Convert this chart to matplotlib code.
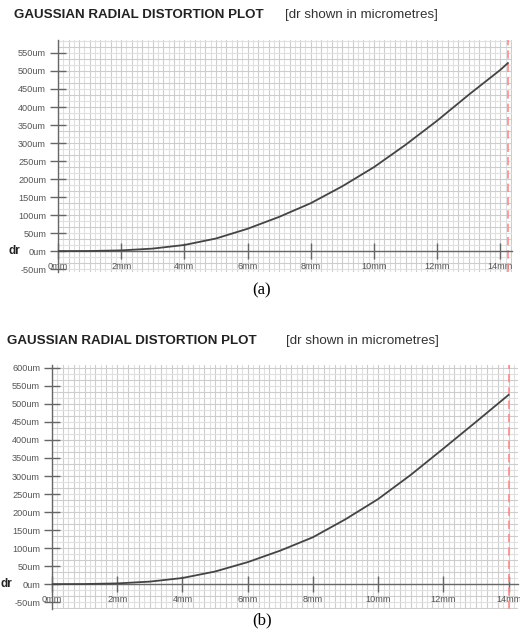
import numpy as np
import matplotlib.pyplot as plt
from matplotlib.ticker import FuncFormatter, MultipleLocator

plt.rcParams['font.family'] = ['Liberation Sans', 'DejaVu Sans']

# radial distance (mm) and radial distortion dr (um) for the two lenses
r_a = [0, 1, 2, 3, 4, 5, 6, 7, 8, 9, 10, 11, 12, 13, 14, 14.24]
dr_a = [0, 0.3, 2, 7, 17, 35, 62, 95, 133, 180, 233, 295, 362, 434, 503, 522]

r_b = [0, 1, 2, 3, 4, 5, 6, 7, 8, 9, 10, 11, 12, 13, 14]
dr_b = [0, 0.3, 2, 7, 17, 35, 61, 93, 130, 180, 236, 303, 376, 450, 525]

x_ticks = [0, 2, 4, 6, 8, 10, 12, 14]
y_ticks_a = [-50, 0, 50, 100, 150, 200, 250, 300, 350, 400, 450, 500, 550]
y_ticks_b = [-50, 0, 50, 100, 150, 200, 250, 300, 350, 400, 450, 500, 550, 600]

W, H = 520, 640
fig = plt.figure(figsize=(W / 100, H / 100), dpi=100)


def box(l, t, r, b):
    # pixel box -> figure fraction rect
    return [l / W, 1 - b / H, (r - l) / W, (b - t) / H]


def draw_panel(rect, r, dr, xlim, ylim, yticks, dr_x):
    # graph-paper grid on its own axes so the tick labels sit on top of it
    bg = fig.add_axes(rect, zorder=0)
    bg.set_xlim(*xlim)
    bg.set_ylim(*ylim)
    bg.xaxis.set_major_locator(MultipleLocator(1 / 3))
    bg.xaxis.set_minor_locator(MultipleLocator(1 / 6))
    bg.yaxis.set_major_locator(MultipleLocator(100 / 3))
    bg.yaxis.set_minor_locator(MultipleLocator(50 / 3))
    bg.grid(which='minor', color='#e0e0e0', lw=0.8)
    bg.grid(which='major', color='#cdcdcd', lw=0.8)
    bg.tick_params(which='both', length=0, labelbottom=False, labelleft=False)
    for s in bg.spines.values():
        s.set_visible(False)

    ax = fig.add_axes(rect, zorder=1)
    ax.patch.set_alpha(0)
    ax.set_xlim(*xlim)
    ax.set_ylim(*ylim)
    for s in ['top', 'right']:
        ax.spines[s].set_visible(False)
    ax.spines['bottom'].set_position(('data', 0))
    ax.spines['left'].set_position(('data', 0))
    for s in ['bottom', 'left']:
        ax.spines[s].set_color('#666666')
        ax.spines[s].set_linewidth(1.0)

    ax.set_xticks(x_ticks)
    ax.set_yticks(yticks)
    ax.xaxis.set_major_formatter(FuncFormatter(lambda v, p: f"{v:g}mm"))
    ax.yaxis.set_major_formatter(FuncFormatter(lambda v, p: f"{v:g}um"))
    ax.tick_params(which='major', direction='inout', length=11, width=1,
                   color='#666666', labelcolor='#555555', labelsize=6.6)
    ax.tick_params(axis='x', pad=2)
    ax.tick_params(axis='y', pad=3)

    ax.plot(r, dr, color='#444444', lw=1.3, zorder=3)
    ax.axvline(r[-1], color='#ff8a8a', lw=1.2, ls=(0, (5, 3)), zorder=2)

    ax.text(dr_x, 0, 'dr', transform=ax.get_yaxis_transform(),
            ha='center', va='center', fontsize=8.5, fontweight='bold',
            color='#222222')
    return ax


ax_a = draw_panel(box(58, 40, 512, 272), r_a, dr_a, (0, 14.37), (-58, 586),
                  y_ticks_a, -0.097)
ax_b = draw_panel(box(52, 365, 518, 609), r_b, dr_b, (0, 14.29), (-69, 608),
                  y_ticks_b, -0.097)

# headings above each plot
for x0, x1, y in [(14, 285, 15), (7, 286, 341)]:
    fig.text(x0 / W, 1 - y / H, 'GAUSSIAN RADIAL DISTORTION PLOT',
             ha='left', va='center', fontsize=9.6, fontweight='bold',
             color='#222222')
    fig.text(x1 / W, 1 - y / H, '[dr shown in micrometres]',
             ha='left', va='center', fontsize=9.6, color='#333333')

# sub-figure captions
for lab, y in [('(a)', 290), ('(b)', 620)]:
    fig.text(262 / W, 1 - y / H, lab, ha='center', va='center',
             fontsize=12, family=['Liberation Serif', 'DejaVu Serif'],
             color='black')

fig.savefig('out.png', dpi=100)
